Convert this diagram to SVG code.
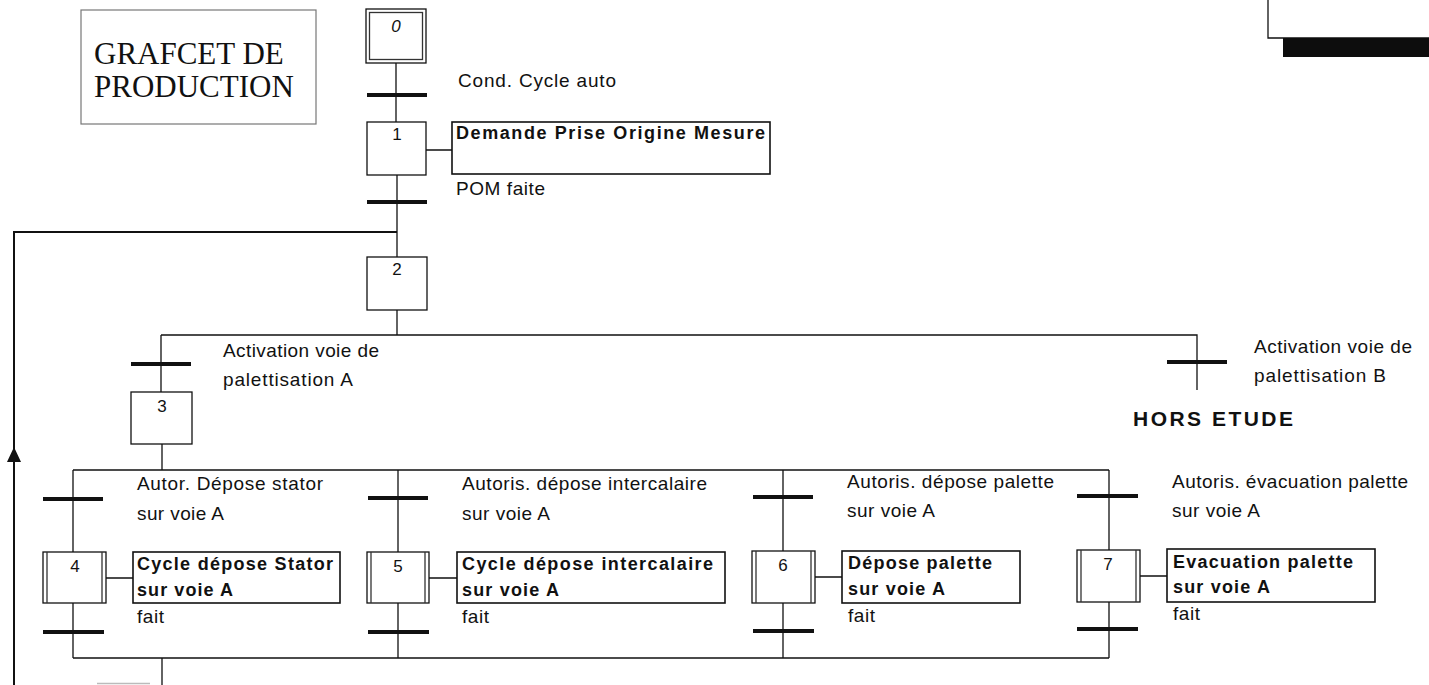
<svg xmlns="http://www.w3.org/2000/svg" width="1429" height="685" viewBox="0 0 1429 685">
<defs>
<style>
.t{font-family:"Liberation Sans",Arial,sans-serif;font-size:19px;fill:#111}
.b{font-family:"Liberation Sans",Arial,sans-serif;font-size:18px;font-weight:bold;fill:#111}
.n{font-family:"Liberation Sans",Arial,sans-serif;font-size:17px;fill:#111;text-anchor:middle}
.title{font-family:"Liberation Serif","Times New Roman",serif;font-size:31px;fill:#111}
.step{fill:#fff;stroke:#111;stroke-width:1.3}
.inner{fill:none;stroke:#333;stroke-width:1.3}
.act{fill:#fff;stroke:#111;stroke-width:1.6}
.ln{fill:none;stroke:#111;stroke-width:1.3}
.tr{stroke:#111;stroke-width:4}
</style>
<marker id="arr" viewBox="0 0 15 14" refX="15" refY="7" markerWidth="15" markerHeight="14" markerUnits="userSpaceOnUse" orient="auto">
<path d="M0,0 L15,7 L0,14 Z" fill="#111"/>
</marker>
</defs>
<rect width="1429" height="685" fill="#fff"/>

<g id="title">
<rect x="81" y="10" width="235" height="114" fill="#fff" stroke="#777" stroke-width="1.2"/>
<text class="title" x="94" y="64">GRAFCET DE</text>
<text class="title" x="94" y="97">PRODUCTION</text>
</g>

<g id="corner-box">
<path d="M1268,0 V38 H1429" class="ln"/>
<rect x="1283" y="38" width="146" height="19" fill="#0d0d0d"/>
</g>

<g id="connectors">
<path class="ln" d="M396,63 V122 M397,175 V257 M397,310 V335 M161,335 H1197 V390 M161,335 V392 M162,444 V470 M73,470 H1109 M73,470 V552 M398,470 V552 M783,470 V551 M1109,470 V550 M73,603 V658 M398,603 V658 M783,603 V658 M1109,602 V658 M73,658 H1109 M162,658 V685"/>
<path class="ln" d="M426,150 H452 M106,578 H133 M429,578 H457 M815,577 H842 M1140,576 H1167"/>
<path fill="none" stroke="#111" stroke-width="2" d="M14,685 V447" marker-end="url(#arr)"/>
<path fill="none" stroke="#111" stroke-width="2" d="M14,455 V232 H397"/>
<path d="M97,683.5 H150" stroke="#bbb" stroke-width="1.5"/>
</g>

<g id="step0">
<rect class="step" x="366" y="9" width="60" height="54"/>
<rect class="inner" x="369.5" y="12.5" width="53" height="47"/>
<text class="n" x="396" y="32" font-style="italic">0</text>
</g>

<g id="trans0">
<line class="tr" x1="367" y1="95" x2="427" y2="95"/>
<text class="t" x="458" y="87" textLength="158" lengthAdjust="spacing">Cond. Cycle auto</text>
</g>

<g id="step1">
<rect class="step" x="367" y="122" width="59" height="53"/>
<text class="n" x="397" y="140">1</text>
</g>
<g id="action1">
<rect class="act" x="452" y="122" width="318" height="52"/>
<text class="b" x="456" y="139" textLength="309" lengthAdjust="spacing">Demande Prise Origine Mesure</text>
</g>

<g id="trans1">
<line class="tr" x1="367" y1="202" x2="427" y2="202"/>
<text class="t" x="456" y="195" textLength="89" lengthAdjust="spacing">POM faite</text>
</g>

<g id="step2">
<rect class="step" x="367" y="257" width="60" height="53"/>
<text class="n" x="397" y="275">2</text>
</g>

<g id="trans2">
<line class="tr" x1="131" y1="364" x2="191" y2="364"/>
<text class="t" x="223" y="357" textLength="156" lengthAdjust="spacing">Activation voie de</text>
<text class="t" x="223" y="386" textLength="130" lengthAdjust="spacing">palettisation A</text>
</g>

<g id="trans-b">
<line class="tr" x1="1167" y1="362" x2="1227" y2="362"/>
<text class="t" x="1254" y="353" textLength="158" lengthAdjust="spacing">Activation voie de</text>
<text class="t" x="1254" y="382" textLength="132" lengthAdjust="spacing">palettisation B</text>
</g>

<g id="hors-etude">
<text class="b" x="1133" y="426" style="font-size:21px" textLength="160" lengthAdjust="spacing">HORS ETUDE</text>
</g>

<g id="step3">
<rect class="step" x="131" y="392" width="61" height="52"/>
<text class="n" x="162" y="412">3</text>
</g>

<g id="trans3">
<line class="tr" x1="43" y1="499" x2="103" y2="499"/>
<text class="t" x="137" y="490" textLength="186" lengthAdjust="spacing">Autor. Dépose stator</text>
<text class="t" x="137" y="520" textLength="87" lengthAdjust="spacing">sur voie A</text>
</g>
<g id="trans4">
<line class="tr" x1="368" y1="498" x2="428" y2="498"/>
<text class="t" x="462" y="490" textLength="245" lengthAdjust="spacing">Autoris. dépose intercalaire</text>
<text class="t" x="462" y="520" textLength="88" lengthAdjust="spacing">sur voie A</text>
</g>
<g id="trans5">
<line class="tr" x1="753" y1="497" x2="813" y2="497"/>
<text class="t" x="847" y="488" textLength="207" lengthAdjust="spacing">Autoris. dépose palette</text>
<text class="t" x="847" y="517" textLength="88" lengthAdjust="spacing">sur voie A</text>
</g>
<g id="trans6">
<line class="tr" x1="1077" y1="496" x2="1138" y2="496"/>
<text class="t" x="1172" y="488" textLength="236" lengthAdjust="spacing">Autoris. évacuation palette</text>
<text class="t" x="1172" y="517" textLength="88" lengthAdjust="spacing">sur voie A</text>
</g>

<g id="step4">
<rect class="step" x="43" y="552" width="63" height="51"/>
<path class="inner" d="M47,552 V603 M102,552 V603"/>
<text class="n" x="75" y="572">4</text>
</g>
<g id="action4">
<rect class="act" x="133" y="552" width="207" height="51"/>
<text class="b" x="137" y="570" textLength="196" lengthAdjust="spacing">Cycle dépose Stator</text>
<text class="b" x="137" y="596" textLength="96" lengthAdjust="spacing">sur voie A</text>
</g>

<g id="step5">
<rect class="step" x="367" y="552" width="62" height="51"/>
<path class="inner" d="M371,552 V603 M425,552 V603"/>
<text class="n" x="398" y="572">5</text>
</g>
<g id="action5">
<rect class="act" x="457" y="552" width="268" height="51"/>
<text class="b" x="462" y="570" textLength="251" lengthAdjust="spacing">Cycle dépose intercalaire</text>
<text class="b" x="462" y="596" textLength="97" lengthAdjust="spacing">sur voie A</text>
</g>

<g id="step6">
<rect class="step" x="752" y="551" width="63" height="52"/>
<path class="inner" d="M756,551 V603 M811,551 V603"/>
<text class="n" x="783" y="571">6</text>
</g>
<g id="action6">
<rect class="act" x="842" y="551" width="178" height="52"/>
<text class="b" x="848" y="569" textLength="144" lengthAdjust="spacing">Dépose palette</text>
<text class="b" x="848" y="595" textLength="97" lengthAdjust="spacing">sur voie A</text>
</g>

<g id="step7">
<rect class="step" x="1077" y="550" width="63" height="52"/>
<path class="inner" d="M1081,550 V602 M1136,550 V602"/>
<text class="n" x="1108" y="570">7</text>
</g>
<g id="action7">
<rect class="act" x="1167" y="549" width="208" height="53"/>
<text class="b" x="1173" y="568" textLength="180" lengthAdjust="spacing">Evacuation palette</text>
<text class="b" x="1173" y="593" textLength="97" lengthAdjust="spacing">sur voie A</text>
</g>

<g id="trans7">
<line class="tr" x1="43" y1="632" x2="104" y2="632"/>
<line class="tr" x1="368" y1="632" x2="429" y2="632"/>
<line class="tr" x1="753" y1="631" x2="814" y2="631"/>
<line class="tr" x1="1077" y1="629" x2="1138" y2="629"/>
<text class="t" x="137" y="623" textLength="27" lengthAdjust="spacing">fait</text>
<text class="t" x="462" y="623" textLength="27" lengthAdjust="spacing">fait</text>
<text class="t" x="848" y="622" textLength="27" lengthAdjust="spacing">fait</text>
<text class="t" x="1173" y="620" textLength="27" lengthAdjust="spacing">fait</text>
</g>
</svg>
